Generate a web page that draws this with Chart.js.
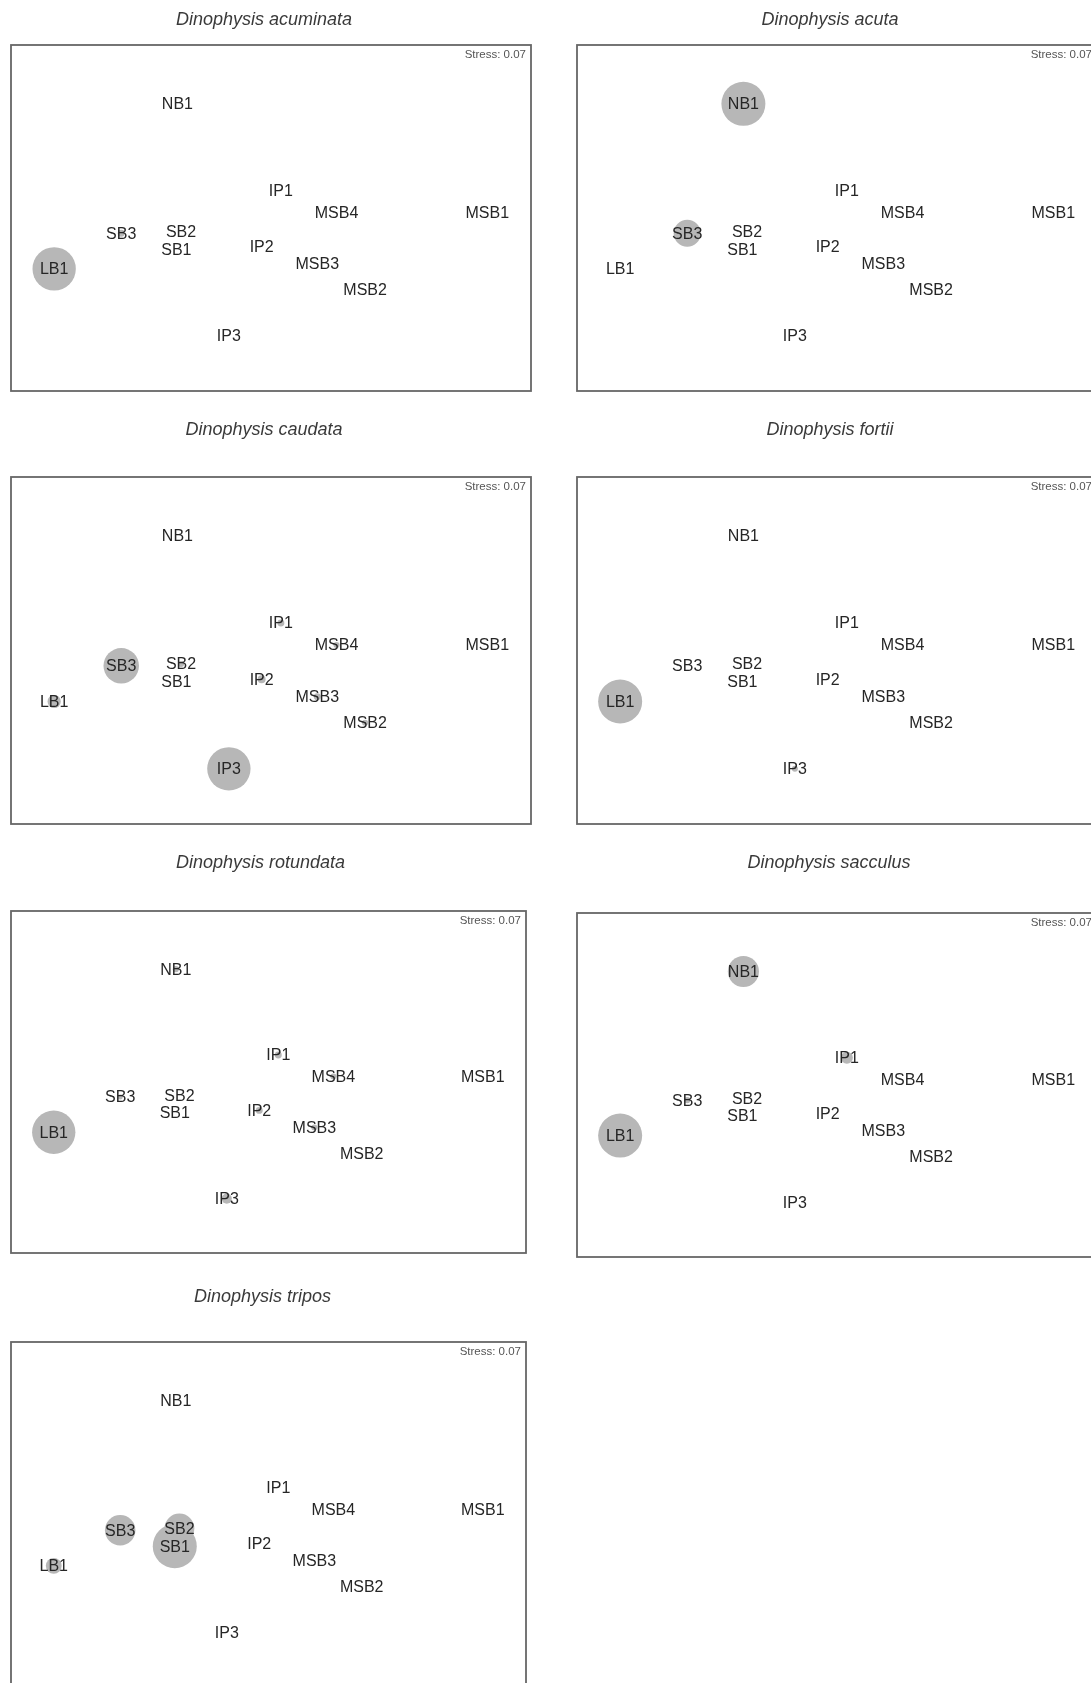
<!DOCTYPE html>
<html>
<head>
<meta charset="utf-8">
<script src="https://cdn.jsdelivr.net/npm/chart.js@4.4.1/dist/chart.umd.min.js"></script>
<style>
  html, body { margin: 0; padding: 0; background: #ffffff; }
  body { position: relative; width: 1091px; height: 1683px; overflow: hidden; }
  canvas.panel { position: absolute; }
</style>
</head>
<body>
<script>
// Sampling sites and their nMDS ordination coordinates (shared by all panels)
const sites  = ['NB1', 'IP1', 'MSB4', 'MSB1', 'SB3', 'SB2', 'SB1', 'IP2', 'LB1', 'MSB3', 'MSB2', 'IP3'];
const siteX  = [32.0, 51.9, 62.6, 91.6, 21.2, 32.7, 31.8, 48.2, 8.3, 58.9, 68.1, 41.9];
const siteY  = [83.0, 57.9, 51.6, 51.6, 45.6, 46.1, 41.0, 41.7, 35.3, 36.7, 29.2, 15.9];
const stressValue = 0.07;

// Relative abundance of each species at each site (same order as `sites`)
const acuminataAbund = [0,   0,   0,   0, 2.5,  0,   0,   0,   97,  0,   0,   0];
const acutaAbund     = [100, 0,   0,   0, 38,   0,   0,   0,   0,   0,   0,   0];
const caudataAbund   = [0,   2.5, 1.9, 0, 65,   1.9, 0,   3.3, 9,   2.5, 1.9, 97];
const fortiiAbund    = [0,   0,   0,   0, 0,    0,   0,   0,   100, 0,   0,   1.9];
const rotundataAbund = [1.9, 2.5, 1.9, 0, 1.3,  0,   0,   2.5, 97,  1.9, 0,   5.2];
const sacculusAbund  = [50,  7.4, 0,   0, 1.9,  0,   0,   0,   100, 0,   0,   0];
const triposAbund    = [0,   0,   0,   0, 48,   46,  100, 0,   13,  0,   0,   0];

const speciesNames = ['Dinophysis acuminata', 'Dinophysis acuta', 'Dinophysis caudata', 'Dinophysis fortii',
                      'Dinophysis rotundata', 'Dinophysis sacculus', 'Dinophysis tripos'];
const speciesAbund = [acuminataAbund, acutaAbund, caudataAbund, fortiiAbund,
                      rotundataAbund, sacculusAbund, triposAbund];

// Panel frames on the page: frame left/top/width/height and the title centre
const frames = [
  { left: 11,  top: 45,   w: 520, h: 346, titleY: 20,   titleDx: -7 },
  { left: 577, top: 45,   w: 520, h: 346, titleY: 20,   titleDx: -7 },
  { left: 11,  top: 477,  w: 520, h: 347, titleY: 430,  titleDx: -7 },
  { left: 577, top: 477,  w: 520, h: 347, titleY: 430,  titleDx: -7 },
  { left: 11,  top: 911,  w: 515, h: 342, titleY: 863,  titleDx: -8 },
  { left: 577, top: 913,  w: 520, h: 344, titleY: 863,  titleDx: -8 },
  { left: 11,  top: 1342, w: 515, h: 346, titleY: 1297, titleDx: -6 }
];

const FONT = '"Liberation Sans", Arial, Helvetica, sans-serif';
// Padding kept larger than the biggest bubble so the frame is not pushed inwards
const PAD = 30;

// Bubble area proportional to abundance
const radiusFor = v => (v > 0 ? 2.2 * Math.sqrt(v) : 0);

// Draws the frame, stress note, site labels and species title
const ordinationPlot = {
  id: 'ordinationPlot',
  afterDatasetsDraw(chart, args, opts) {
    const { ctx, chartArea: a, scales: { x, y } } = chart;
    ctx.save();

    ctx.strokeStyle = '#666666';
    ctx.lineWidth = 1.8;
    ctx.strokeRect(a.left, a.top, a.width, a.height);

    ctx.font = '11.5px ' + FONT;
    ctx.fillStyle = '#555555';
    ctx.textAlign = 'right';
    ctx.textBaseline = 'middle';
    ctx.fillText('Stress: ' + stressValue.toFixed(2), a.right - 5, a.top + 10);

    ctx.font = '16px ' + FONT;
    ctx.fillStyle = '#262626';
    ctx.textAlign = 'center';
    sites.forEach((s, i) => {
      ctx.fillText(s, x.getPixelForValue(siteX[i]), y.getPixelForValue(siteY[i]) + 1);
    });

    ctx.font = 'italic 18px ' + FONT;
    ctx.fillStyle = '#3a3a3a';
    ctx.fillText(opts.title, a.left + a.width / 2 + opts.titleDx, opts.titleY);
    ctx.restore();
  }
};

speciesNames.forEach((name, k) => {
  const f = frames[k];
  const canvasTop = Math.max(0, f.titleY - 40);
  const topSpace = f.top - canvasTop;
  const cv = document.createElement('canvas');
  cv.className = 'panel';
  cv.width = f.w + 2 * PAD;
  cv.height = topSpace + f.h + PAD;
  cv.style.left = (f.left - PAD) + 'px';
  cv.style.top = canvasTop + 'px';
  document.body.appendChild(cv);

  const points = sites.map((s, i) => ({ x: siteX[i], y: siteY[i], r: radiusFor(speciesAbund[k][i]) }));

  new Chart(cv, {
    type: 'bubble',
    data: {
      datasets: [{
        label: name,
        data: points,
        backgroundColor: '#b7b7b7',
        borderWidth: 0,
        hoverRadius: 0
      }]
    },
    options: {
      responsive: false,
      animation: false,
      events: [],
      devicePixelRatio: 1,
      clip: false,
      layout: { padding: { left: PAD, right: PAD, top: topSpace, bottom: PAD } },
      scales: {
        x: { type: 'linear', min: 0, max: 100, display: false },
        y: { type: 'linear', min: 0, max: 100, display: false }
      },
      plugins: {
        legend: { display: false },
        tooltip: { enabled: false },
        title: { display: false },
        ordinationPlot: { title: name, titleY: f.titleY - canvasTop, titleDx: f.titleDx }
      }
    },
    plugins: [ordinationPlot]
  });
});
</script>
</body>
</html>
